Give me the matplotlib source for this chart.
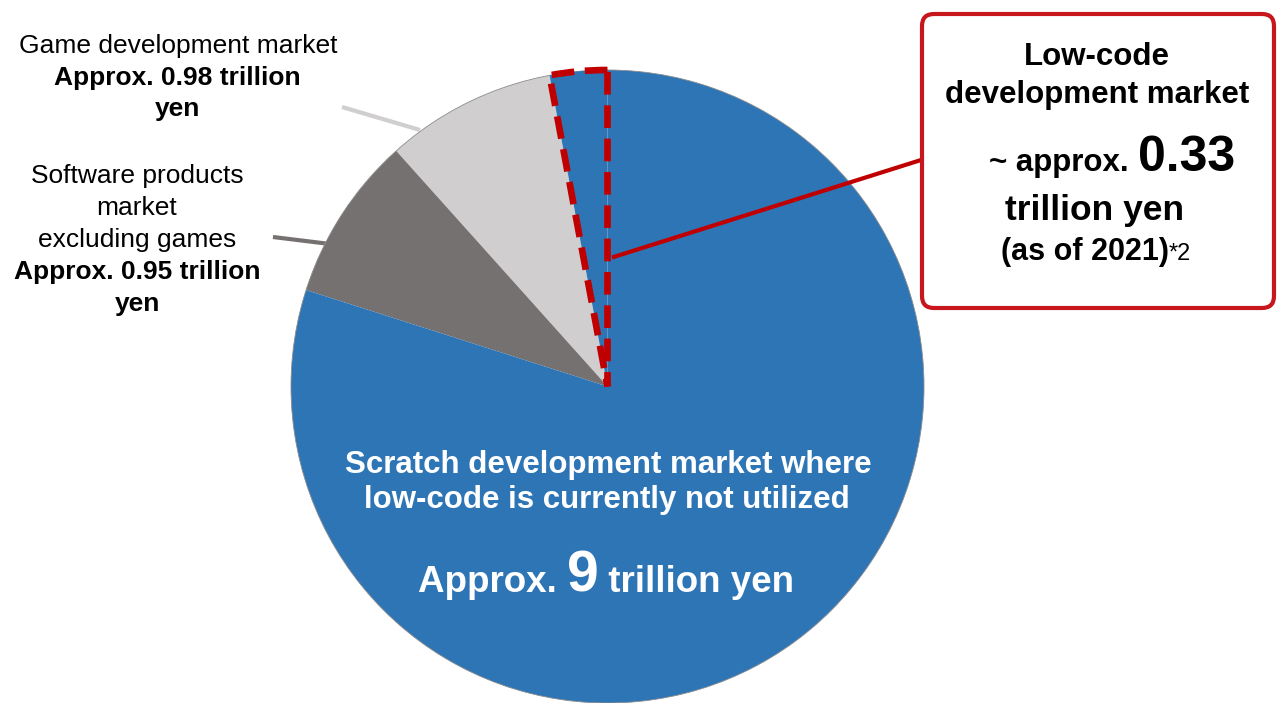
import matplotlib.pyplot as plt
from matplotlib.patches import FancyBboxPatch, Circle
import numpy as np

plt.rcParams['font.family'] = ['Liberation Sans', 'DejaVu Sans']

# market sizes, trillion yen (counter-clockwise from 12 o'clock)
segments = ['Low-code', 'Game development', 'Software products', 'Scratch development']
values = [0.33, 0.98, 0.95, 9.0]
colors = ['#2E75B6', '#D0CECE', '#767171', '#2E75B6']

RED = '#C00000'
W, H = 1278, 703
CX, CY, R = 607.5, H - 386.5, 316.5

fig = plt.figure(figsize=(W / 100, H / 100), dpi=100)
ax = fig.add_axes([0, 0, 1, 1])

wedges, _ = ax.pie(values, colors=colors, startangle=90, counterclock=True,
                   center=(CX, CY), radius=R, frame=True,
                   wedgeprops=dict(linewidth=0))
ax.set_xlim(0, W)
ax.set_ylim(0, H)
ax.set_aspect('auto')
ax.axis('off')

# thin outline round the pie
ax.add_patch(Circle((CX, CY), R, fill=False, ec='#8c8c8c', lw=0.6, zorder=1.5))

# highlight the low-code slice with a red dashed outline
lc = wedges[0]
lc.set_edgecolor(RED)
lc.set_linewidth(4.8)
lc.set_linestyle((0, (3.4, 1.6)))
lc.set_joinstyle('miter')
lc.set_zorder(3)

# leader lines
ax.plot([342, 420], [H - 107, H - 130], color='#D0CECE', lw=3, solid_capstyle='butt', zorder=1)
ax.plot([273, 330], [H - 237, H - 244], color='#767171', lw=3, solid_capstyle='butt', zorder=1)
t1 = np.deg2rad(lc.theta1)
r0 = 129
ax.plot([CX + 4.5 + r0 * np.cos(t1), 921], [CY + r0 * np.sin(t1), H - 160],
        color=RED, lw=3, zorder=4, solid_capstyle='butt')

# callout box
box = FancyBboxPatch((922, H - 308), 352, 294, boxstyle='round,pad=0,rounding_size=12',
                     fc='white', ec='#C8161D', lw=3, zorder=5)
ax.add_patch(box)

renderer = fig.canvas.get_renderer()


def rich_line(x, y, parts, color='black'):
    # parts: list of (text, size, weight); centred on x, baseline at y
    texts = []
    for s, size, weight in parts:
        t = ax.text(0, y, s, fontsize=size, fontweight=weight, color=color,
                    ha='left', va='baseline', zorder=6)
        texts.append(t)
    widths = []
    for t in texts:
        bb = t.get_window_extent(renderer)
        widths.append(bb.width)
    total = sum(widths)
    left = x - total / 2
    for t, w in zip(texts, widths):
        t.set_x(left)
        left += w
    return texts


# left labels
rich_line(178, H - 53, [('Game development market', 19, 'normal')])
rich_line(177, H - 85, [('Approx. 0.98 trillion', 19, 'bold')])
rich_line(177, H - 116, [('yen', 19, 'bold')])

rich_line(137, H - 183, [('Software products', 19, 'normal')])
rich_line(137, H - 215, [('market', 19, 'normal')])
rich_line(137, H - 247, [('excluding games', 19, 'normal')])
rich_line(137, H - 279, [('Approx. 0.95 trillion', 19, 'bold')])
rich_line(137, H - 311, [('yen', 19, 'bold')])

# callout text
rich_line(1097, H - 65, [('Low-code', 22.5, 'bold')])
rich_line(1097, H - 103, [('development market', 22.5, 'bold')])
rich_line(1112, H - 171, [('~ approx. ', 22.5, 'bold'), ('0.33', 36, 'bold')])
rich_line(1095, H - 220, [('trillion yen', 25.5, 'bold')])
rich_line(1096, H - 260, [('(as of 2021)', 22, 'bold'), ('*2', 17, 'normal')])

# text inside the scratch slice
rich_line(608, H - 473, [('Scratch development market where', 22.5, 'bold')], color='white')
rich_line(607, H - 508, [('low-code is currently not utilized', 22.5, 'bold')], color='white')
rich_line(606, H - 592, [('Approx. ', 26.5, 'bold'), ('9', 41, 'bold'), (' trillion yen', 26.5, 'bold')],
          color='white')

fig.savefig('out.png', dpi=100)
